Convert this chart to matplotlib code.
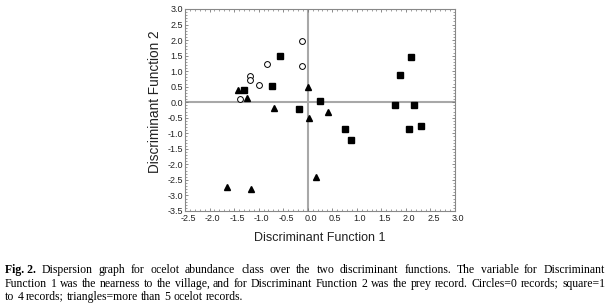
import math
import matplotlib
matplotlib.use("Agg")
import matplotlib.pyplot as plt
from matplotlib.ticker import MultipleLocator, FormatStrFormatter
from matplotlib.transforms import ScaledTranslation
from matplotlib.font_manager import FontProperties
import numpy as np

# Data
circles_x = [-0.12, -0.12, -0.83, -1.17, -1.17, -1.00, -1.37]
circles_y = [1.97, 1.17, 1.22, 0.85, 0.70, 0.57, 0.10]

squares_x = [-0.57, -0.72, -1.30, -0.18, 0.25, 0.76, 0.89, 1.77, 1.88, 2.11, 2.17, 2.06, 2.31]
squares_y = [1.50, 0.52, 0.38, -0.23, 0.04, -0.85, -1.20, -0.10, 0.88, 1.47, -0.10, -0.85, -0.77]

triangles_x = [-1.42, -1.24, -0.68, 0.01, 0.02, -1.64, -1.15, 0.42, 0.16]
triangles_y = [0.38, 0.15, -0.17, 0.48, -0.50, -2.72, -2.80, -0.33, -2.42]

xlabel = "Discriminant Function 1"
ylabel = "Discriminant Function 2"

caption_lines = [
    ["Fig. 2.", "Dispersion graph for ocelot abundance class over the two discriminant functions. The variable for Discriminant"],
    ["", "Function 1 was the nearness to the village, and for Discriminant Function 2 was the prey record. Circles=0 records; square=1"],
    ["", "to 4 records; triangles=more than 5 ocelot records."],
]

fig = plt.figure(figsize=(6.1, 3.05), dpi=100)
W, H = 610, 305
ax = fig.add_axes([185/W, 1-211/H, (455-185)/W, (211-9)/H])

ax.axhline(0, color="#a8a8a8", lw=1.5, zorder=1)
ax.axvline(0, color="#a8a8a8", lw=1.5, zorder=1)

ax.plot(circles_x, circles_y, "o", ms=4.2, mfc="white", mec="black", mew=0.7, zorder=3)
ax.plot(squares_x, squares_y, "s", ms=4.5, color="black", zorder=3)
ax.plot(triangles_x, triangles_y, "^", ms=5, color="black", zorder=3)

ax.set_xlim(-2.5, 3.0)
ax.set_ylim(-3.5, 3.0)
ax.xaxis.set_major_locator(MultipleLocator(0.5))
ax.yaxis.set_major_locator(MultipleLocator(0.5))
ax.xaxis.set_minor_locator(MultipleLocator(0.1))
ax.yaxis.set_minor_locator(MultipleLocator(0.1))
ax.xaxis.set_major_formatter(FormatStrFormatter("%.1f"))
ax.yaxis.set_major_formatter(FormatStrFormatter("%.1f"))
ax.tick_params(which="both", direction="in", top=True, right=True, color="#777777")
ax.tick_params(which="major", length=2.5, width=0.6, labelsize=6.5, pad=1.5, labelcolor="#222222")
ax.tick_params(axis="x", which="major", pad=2.5)
ax.tick_params(which="minor", length=1.2, width=0.5)
for s in ax.spines.values():
    s.set_color("#888888")
    s.set_linewidth(0.8)
off = ScaledTranslation(3/100, 0, fig.dpi_scale_trans)
for lab in ax.get_xticklabels():
    lab.set_fontfamily(["Liberation Sans", "DejaVu Sans"])
    lab.set_transform(lab.get_transform() + off)
for lab in ax.get_yticklabels():
    lab.set_fontfamily(["Liberation Sans", "DejaVu Sans"])

fig.text(320/W, 1-238/H, xlabel, ha="center", va="center", fontsize=9,
         family=["Liberation Sans", "DejaVu Sans"], color="#222222")
fig.text(155/W, 1-102/H, ylabel, ha="center", va="center", fontsize=9.8, rotation=90,
         family=["Liberation Sans", "DejaVu Sans"], color="#222222")

# Justified caption (one text per word)
fig.canvas.draw()
renderer = fig.canvas.get_renderer()
left_px, right_px = 5, 605
line_ys = [273, 287, 300]   # target baseline rows (from top)
cfs = 8.5
fam = ["Liberation Serif", "DejaVu Serif"]

def width_of(s, bold=False):
    t = fig.text(0, 0, s, fontsize=cfs, family=fam, fontweight="bold" if bold else "normal")
    bb = t.get_window_extent(renderer)
    t.remove()
    return bb.width

def baseline_for(s, bold, target):
    # compensate Agg's integer snapping so every word sits on the same pixel row
    try:
        from matplotlib.backends.backend_agg import get_hinting_flag
        prop = FontProperties(family=fam, size=cfs, weight="bold" if bold else "normal")
        font = renderer._prepare_font(prop)
        font.set_text(s, 0.0, flags=get_hinting_flag())
        D = font.get_descent() / 64.0
        hw = font.get_width_height()
        A = hw[1] / 64.0 - D
        fD = D - math.floor(D)
        fA = A - math.floor(A)
        c = 1 if fA + fD >= 1 else 0
        return target + c - fD
    except Exception:
        return target + 0.49

space_w = width_of("a b") - width_of("ab")
for i, (bold_part, rest) in enumerate(caption_lines):
    words = []
    if bold_part:
        words.append((bold_part, True))
    words += [(w, False) for w in rest.split()]
    widths = [width_of(w, b) for w, b in words]
    justify = i < len(caption_lines) - 1
    total = sum(widths)
    gap = (right_px - left_px - total) / (len(words) - 1) if justify else space_w
    x = left_px
    for (w, b), wd in zip(words, widths):
        yb = baseline_for(w, b, line_ys[i])
        fig.text(x / W, 1 - yb / H, w, fontsize=cfs, family=fam, fontweight="bold" if b else "normal",
                 ha="left", va="baseline", color="black")
        x += wd + gap

fig.savefig("out.png", dpi=100)
